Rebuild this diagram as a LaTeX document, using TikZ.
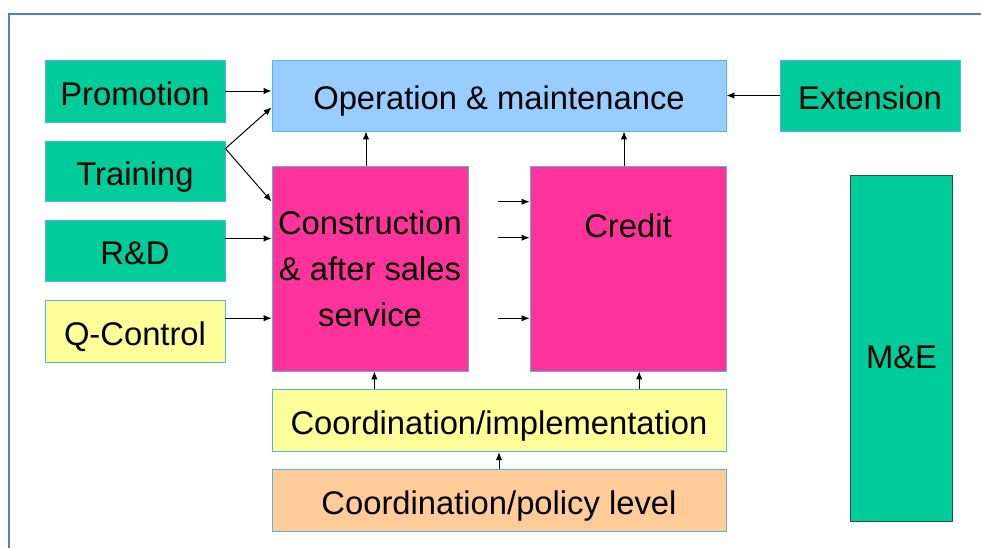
\documentclass[tikz,border=0pt]{standalone}
\usepackage{fontspec}
\setmainfont{Liberation Sans}
\usetikzlibrary{arrows.meta}
\definecolor{boxgreen}{HTML}{00CC99}
\definecolor{boxblue}{HTML}{99CCFF}
\definecolor{boxpink}{HTML}{FF3399}
\definecolor{boxyellow}{HTML}{FFFF99}
\definecolor{boxorange}{HTML}{FFCC99}
\definecolor{boxline}{HTML}{55B4E6}
\definecolor{meline}{HTML}{2F4F4F}
\definecolor{frameblue}{HTML}{4F81BD}
\begin{document}
\begin{tikzpicture}[
  txt/.style={font=\fontsize{23.3}{32.6}\selectfont},
  box/.style={txt,draw=boxline,line width=.6pt,inner sep=0pt},
  line/.style={text height=20.3pt,text depth=0pt},
  arr/.style={-{Latex[length=2mm,width=1.6mm]},line width=.7pt}
]
\useasboundingbox (0,0) rectangle (24.525,13.7);
\draw[frameblue,line width=1.4pt] (24.525,13.35) -- (.2175,13.35) -- (.2175,0);
% left column
\node[box,line,fill=boxgreen,minimum width=4.5cm,minimum height=1.55cm] (promo) at (3.375,11.425) {Promotion};
\node[box,line,fill=boxgreen,minimum width=4.5cm,minimum height=1.5cm] (train) at (3.375,9.425) {Training};
\node[box,line,fill=boxgreen,minimum width=4.5cm,minimum height=1.525cm] (rd) at (3.375,7.4375) {R\&D};
\node[box,line,fill=boxyellow,minimum width=4.5cm,minimum height=1.55cm] (qc) at (3.375,5.425) {Q-Control};
% middle
\node[box,line,fill=boxblue,minimum width=11.35cm,minimum height=1.775cm] (oper) at (12.475,11.3125) {Operation \& maintenance};
\node[box,fill=boxpink,minimum width=4.9cm,minimum height=5.125cm,align=center] (cons) at (9.25,6.9875) {Construction\\\& after sales\\service};
\node[box,fill=boxpink,minimum width=4.9cm,minimum height=5.125cm,label={[txt,anchor=center,yshift=-1.5cm]north:Credit}] (credit) at (15.7,6.9875) {};
\node[box,line,fill=boxyellow,minimum width=11.35cm,minimum height=1.56cm] (impl) at (12.475,3.1875) {Coordination/implementation};
\node[box,line,fill=boxorange,minimum width=11.35cm,minimum height=1.56cm] (policy) at (12.475,1.1875) {Coordination/policy level};
% right
\node[box,line,fill=boxgreen,minimum width=4.5cm,minimum height=1.775cm] (ext) at (21.75,11.3125) {Extension};
\node[box,line,text height=29pt,draw=meline,fill=boxgreen,minimum width=2.55cm,minimum height=8.67cm] (me) at (22.54,4.99) {M\&E};
% arrows
\draw[arr] (promo.east) -- (promo.east -| oper.west);
\draw[arr] ([yshift=-.2cm]train.north east) -- ([yshift=.6cm]oper.south west);
\draw[arr] ([yshift=-.2cm]train.north east) -- ([yshift=-.9cm]cons.north west);
\draw[arr] ([yshift=.3cm]rd.east) -- ([yshift=.3cm]rd.east -| cons.west);
\draw[arr] ([yshift=.32cm]qc.east) -- ([yshift=.32cm]qc.east -| cons.west);
\draw[arr] (ext.west) -- (ext.west -| oper.east);
\draw[arr] ([xshift=-.1cm]cons.north) -- ([xshift=-.1cm]cons.north |- oper.south);
\draw[arr] ([xshift=-.1cm]credit.north) -- ([xshift=-.1cm]credit.north |- oper.south);
\draw[arr] ([xshift=.11cm]cons.south |- impl.north) -- ([xshift=.11cm]cons.south);
\draw[arr] ([xshift=.28cm]credit.south |- impl.north) -- ([xshift=.28cm]credit.south);
\draw[arr] (policy.north) -- (impl.south);
% inputs to credit
\coordinate (in1) at (12.46,8.6575);
\coordinate (in2) at (12.46,7.7575);
\coordinate (in3) at (12.46,5.7425);
\draw[arr] (in1) -- (in1 -| credit.west);
\draw[arr] (in2) -- (in2 -| credit.west);
\draw[arr] (in3) -- (in3 -| credit.west);
\end{tikzpicture}
\end{document}
